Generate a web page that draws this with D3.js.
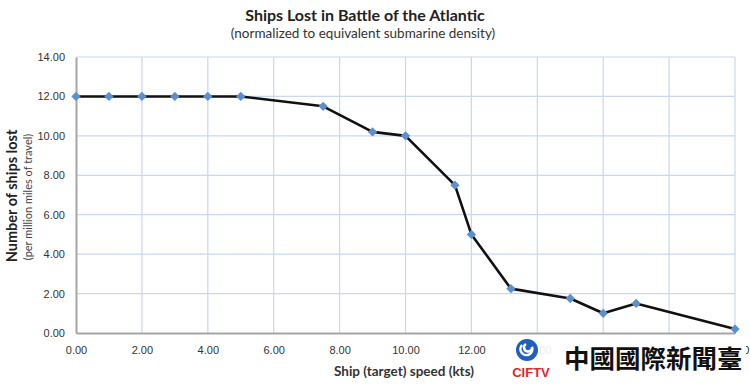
<!DOCTYPE html>
<html>
<head>
<meta charset="utf-8">
<script src="https://cdn.jsdelivr.net/npm/d3@7"></script>
<style>
  body { margin: 0; background: #fff; }
  svg { display: block; font-family: Lato, "Open Sans", sans-serif; }
</style>
</head>
<body>
<svg id="chart" width="750" height="386"></svg>
<script>
// ship speed (kts) vs ships lost per million miles
const speeds = [0, 1, 2, 3, 4, 5, 7.5, 9, 10, 11.5, 12, 13.2, 15, 16, 17, 20]
const shipsLost = [12, 12, 12, 12, 12, 12, 11.5, 10.2, 10, 7.5, 5, 2.25, 1.75, 1, 1.5, 0.2]
const xTicks = [0, 2, 4, 6, 8, 10, 12, 14, 16, 18, 20]
const yTicks = [0, 2, 4, 6, 8, 10, 12, 14]

const width = 750
const height = 386
const margin = {top: 57, right: 15, bottom: 53, left: 76}

const svg = d3.select('#chart')

const x = d3.scaleLinear().domain([0, 20]).range([margin.left, width - margin.right])
const y = d3.scaleLinear().domain([0, 14]).range([height - margin.bottom, margin.top])

const data = speeds.map((s, i) => ({speed: s, lost: shipsLost[i]}))

// grid
svg.append('g')
  .selectAll('line.v')
  .data(xTicks.slice(1))
  .join('line')
  .attr('x1', d => x(d)).attr('x2', d => x(d))
  .attr('y1', y(14)).attr('y2', y(0))
  .attr('stroke', '#c9d8ef').attr('stroke-width', 1.2)

svg.append('g')
  .selectAll('line.h')
  .data(yTicks.slice(1))
  .join('line')
  .attr('x1', x(0)).attr('x2', x(20))
  .attr('y1', d => y(d)).attr('y2', d => y(d))
  .attr('stroke', '#c9d8ef').attr('stroke-width', 1.2)

// axes
const xAxis = d3.axisBottom(x).tickValues(xTicks).tickFormat(d3.format('.2f')).tickSize(0).tickPadding(13)
const yAxis = d3.axisLeft(y).tickValues(yTicks).tickFormat(d3.format('.2f')).tickSize(0).tickPadding(11)

const gx = svg.append('g').attr('transform', `translate(0,${y(0)})`).call(xAxis)
const gy = svg.append('g').attr('transform', `translate(${x(0)},0)`).call(yAxis)

;[gx, gy].forEach(g => {
  g.select('.domain').attr('stroke', '#a6a6a6').attr('stroke-width', 2)
  g.selectAll('text').attr('fill', '#333').style('font-size', '11px')
})

// line
svg.append('path')
  .datum(data)
  .attr('fill', 'none')
  .attr('stroke', '#111')
  .attr('stroke-width', 2.6)
  .attr('stroke-linejoin', 'round')
  .attr('d', d3.line().x(d => x(d.speed)).y(d => y(d.lost)))

// diamond markers
svg.append('g')
  .selectAll('path')
  .data(data)
  .join('path')
  .attr('transform', d => `translate(${x(d.speed)},${y(d.lost)})`)
  .attr('d', d3.symbol(d3.symbolDiamond2, 55))
  .attr('fill', '#5b8fcf')

// titles
svg.append('text')
  .attr('x', 365).attr('y', 21)
  .attr('text-anchor', 'middle')
  .style('font-size', '16px').style('font-weight', 'bold').attr('fill', '#222')
  .text('Ships Lost in Battle of the Atlantic')

svg.append('text')
  .attr('x', 363).attr('y', 38)
  .attr('text-anchor', 'middle')
  .style('font-size', '13.5px').attr('fill', '#333')
  .text('(normalized to equivalent submarine density)')

svg.append('text')
  .attr('transform', 'translate(17,196) rotate(-90)')
  .attr('text-anchor', 'middle')
  .style('font-size', '14.5px').style('font-weight', 'bold').attr('fill', '#222')
  .text('Number of ships lost')

svg.append('text')
  .attr('transform', 'translate(32,197) rotate(-90)')
  .attr('text-anchor', 'middle')
  .style('font-size', '11px').attr('fill', '#444')
  .text('(per million miles of travel)')

svg.append('text')
  .attr('x', 404).attr('y', 376)
  .attr('text-anchor', 'middle')
  .style('font-size', '13.5px').style('font-weight', 'bold').attr('fill', '#333')
  .text('Ship (target) speed (kts)')

// watermark
const wm = svg.append('g')
wm.append('rect').attr('x', 556).attr('y', 340).attr('width', 190).attr('height', 34).attr('fill', '#fff').attr('opacity', 0.95)
wm.append('rect').attr('x', 505).attr('y', 338).attr('width', 52).attr('height', 40).attr('fill', '#fff').attr('opacity', 0.9)
wm.append('circle').attr('cx', 527).attr('cy', 350).attr('r', 11).attr('fill', '#1f5fbf')
wm.append('path')
  .attr('d', 'M522,345 a6,6 0 1,0 10,2 a4,4 0 1,1 -6,-3')
  .attr('fill', 'none').attr('stroke', '#fff').attr('stroke-width', 2.5)
wm.append('text')
  .attr('x', 531).attr('y', 377)
  .attr('text-anchor', 'middle')
  .style('font-family', '"Liberation Sans", Arial, sans-serif')
  .style('font-size', '13px').style('font-weight', 'bold').attr('fill', '#e3262b')
  .text('CIFTV')
wm.append('text')
  .attr('x', 564).attr('y', 368)
  .style('font-family', '"Noto Sans CJK TC", sans-serif')
  .style('font-size', '25.5px').style('font-weight', 'bold').attr('fill', '#111')
  .text('中國國際新聞臺')
</script>
</body>
</html>
